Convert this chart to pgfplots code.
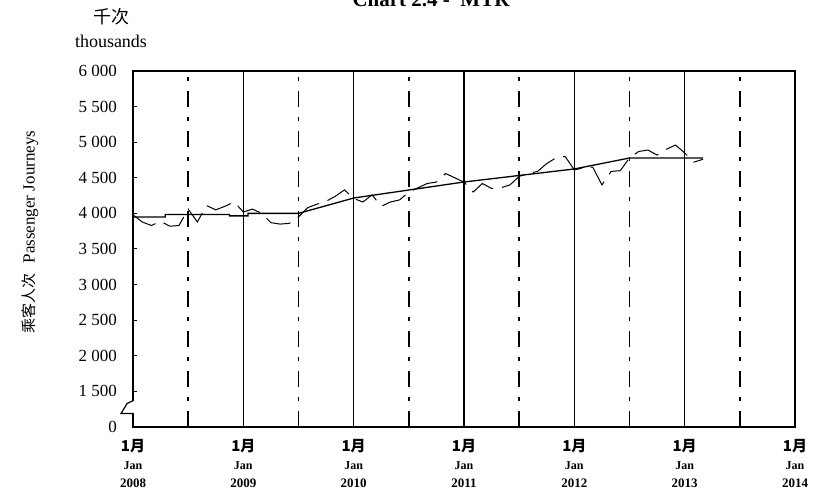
\documentclass[border=0pt]{standalone}
\usepackage{pgfplots}
\usepackage{pgfplotstable}
\pgfplotsset{compat=1.18}
\usepackage{fontspec}
\setmainfont{Liberation Serif}
\newfontfamily\cjk{Noto Sans CJK SC}

\newcommand{\xl}[1]{\fontsize{14}{18}\selectfont\begin{tabular}{@{}c@{}}{\cjk\bfseries\fontsize{15}{18}\selectfont 1月}\\{\bfseries\fontsize{12}{18}\selectfont Jan}\\{\bfseries\fontsize{13}{18}\selectfont #1}\end{tabular}}

\pgfplotstableread{
m v
0 3980
1 3880
2 3830
3 3890
4 3820
5 3830
6 4060
7 3880
8 4110
9 4050
10 4100
11 4160
12 4020
13 4060
14 4000
15 3870
16 3850
17 3860
18 3950
19 4080
20 4130
21 4170
22 4240
23 4330
24 4210
25 4160
26 4260
27 4100
28 4160
29 4190
30 4300
31 4360
32 4420
33 4440
34 4560
35 4500
36 4440
37 4300
38 4420
39 4350
40 4360
41 4400
42 4520
43 4560
44 4590
45 4700
46 4780
47 4800
48 4610
49 4640
50 4650
51 4400
52 4590
53 4600
54 4780
55 4870
56 4890
57 4820
58 4900
59 4960
60 4850
61 4720
62 4760
}\monthly

\pgfplotstableread{
m v
0 3950
3.5 3950
3.5 3985
10.5 3985
10.5 3965
12.5 3965
12.5 4000
18 4000
24 4216
36 4441
48 4624
54 4778
62 4778
}\trend

\begin{document}
\begin{tikzpicture}
\useasboundingbox (0,0) rectangle (814pt,492pt);
\begin{axis}[
  at={(133pt,65pt)}, anchor=south west,
  width=662pt, height=356pt, scale only axis,
  xmin=0, xmax=72, ymin=0, ymax=5000,
  axis line style={line width=1.4pt},
  xtick={0,12,...,72},
  xticklabels={{\xl{2008}},{\xl{2009}},{\xl{2010}},{\xl{2011}},{\xl{2012}},{\xl{2013}},{\xl{2014}}},
  minor xtick={6,18,...,66},
  xmajorgrids, xminorgrids,
  major x grid style={black, line width=1.5pt},
  minor x grid style={black, line width=1.5pt, dash pattern=on 16pt off 10pt on 4pt off 10pt},
  xtick style={draw=none},
  every minor tick/.append style={draw=none},
  xticklabel style={anchor=north, inner sep=0pt, yshift=-12pt},
  ytick={0,500,...,5000},
  yticklabels={0,1~500,2~000,2~500,3~000,3~500,4~000,4~500,5~000,5~500,6~000},
  ytick pos=left, xtick pos=bottom,
  tick align=inside, major tick length=4pt,
  ytick style={black, line width=1pt},
  yticklabel style={anchor=east, inner sep=0pt, xshift=-16pt, font=\fontsize{17}{17}\selectfont},
]
\addplot[black, line width=1pt, dash pattern=on 26pt off 9pt] table[x=m, y expr=\thisrow{v}-1000] {\monthly};
\addplot[black, line width=1.3pt] table[x=m, y expr=\thisrow{v}-1000] {\trend};
\coordinate (brkT) at (axis cs:0,370);
\coordinate (brkB) at (axis cs:0,190);
\end{axis}
\fill[white] ([xshift=-1.5pt]brkB) rectangle ([xshift=1.5pt]brkT);
\draw[line width=1.2pt] (brkT) -- ++(-6pt,-3pt) -- ([xshift=-12pt]brkB) -- (brkB);
\node[anchor=base, font=\bfseries\fontsize{21}{21}\selectfont] at (431pt,485pt) {Chart 2.4 -\ \ MTR};
\node[font=\cjk\fontsize{18}{18}\selectfont] at (111pt,475pt) {千次};
\node[anchor=base, font=\fontsize{18}{18}\selectfont] at (111pt,444pt) {thousands};
\node[rotate=90] at (30pt,260pt) {{\cjk\fontsize{15}{15}\selectfont 乘客人次}\hspace{10pt}{\fontsize{17}{17}\selectfont Passenger Journeys}};
\end{tikzpicture}
\end{document}
